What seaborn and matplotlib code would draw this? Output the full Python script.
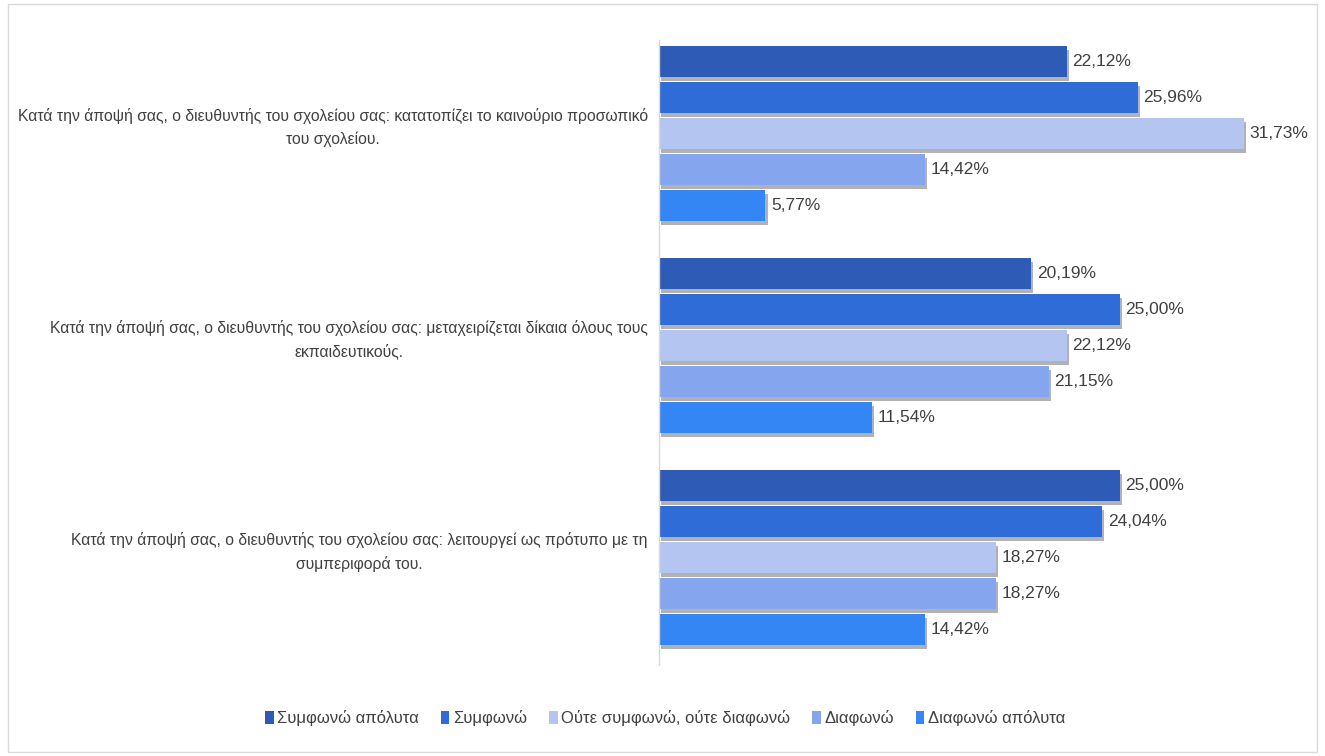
import matplotlib
matplotlib.use("Agg")
import matplotlib.pyplot as plt
import matplotlib.patheffects as pe
from matplotlib.patches import Rectangle, Patch
import seaborn as sns
import pandas as pd

# Survey statements (y categories), answer options (hue) and shares (%)
statements = [
    "Κατά την άποψή σας, ο διευθυντής του σχολείου σας: κατατοπίζει το καινούριο προσωπικό\nτου σχολείου.",
    "Κατά την άποψή σας, ο διευθυντής του σχολείου σας: μεταχειρίζεται δίκαια όλους τους\nεκπαιδευτικούς.",
    "Κατά την άποψή σας, ο διευθυντής του σχολείου σας: λειτουργεί ως πρότυπο με τη\nσυμπεριφορά του.",
]
answers = ["Συμφωνώ απόλυτα", "Συμφωνώ", "Ούτε συμφωνώ, ούτε διαφωνώ", "Διαφωνώ", "Διαφωνώ απόλυτα"]
agree_fully = [22.12, 20.19, 25.00]
agree = [25.96, 25.00, 24.04]
neutral = [31.73, 22.12, 18.27]
disagree = [14.42, 21.15, 18.27]
disagree_fully = [5.77, 11.54, 14.42]

colors = ["#2d5bb5", "#2f6cd8", "#b4c5f2", "#85a5ee", "#3586f5"]

series = [agree_fully, agree, neutral, disagree, disagree_fully]
rows = []
for ans, vals in zip(answers, series):
    for st, v in zip(statements, vals):
        rows.append({"statement": st, "answer": ans, "value": v})
df = pd.DataFrame(rows)

sns.set_theme(style="white")
plt.rcParams["font.family"] = ["Liberation Sans", "DejaVu Sans"]
text_color = "#404040"

fig = plt.figure(figsize=(13.25, 7.56), dpi=100)
ax = fig.add_axes([0.4974, 0.120, 0.501, 0.827])

sns.barplot(data=df, y="statement", x="value", hue="answer",
            order=statements, hue_order=answers, palette=colors,
            orient="h", width=0.85, gap=0.14, ax=ax, legend=False,
            saturation=1, errorbar=None)

shadow = [pe.SimplePatchShadow(offset=(1.5, -3), shadow_rgbFace="#000000", alpha=0.3),
          pe.Normal()]
for patch in ax.patches:
    patch.set_path_effects(shadow)
    patch.set_edgecolor("none")

for cont in ax.containers:
    labels = [f"{v:.2f}".replace(".", ",") + "%" for v in cont.datavalues]
    ax.bar_label(cont, labels=labels, padding=4, fontsize=12.5, color=text_color)

ax.set_xlim(0, 36)
ax.set_ylim(2.51, -0.44)
ax.set_xlabel("")
ax.set_ylabel("")
ax.set_xticks([])
ax.tick_params(axis="y", length=0)
ax.set_yticklabels([])

# category labels, centred a little above each group's middle
for i, st in enumerate(statements):
    ax.annotate(st, xy=(0, i), xycoords=("axes fraction", "data"),
                xytext=(-8, 4), textcoords="offset points",
                ha="right", va="center", multialignment="center",
                fontsize=11.3, color=text_color, linespacing=1.6)

for side in ["top", "right", "bottom"]:
    ax.spines[side].set_visible(False)
ax.spines["left"].set_color("#d9d9d9")
ax.spines["left"].set_linewidth(1)

handles = [Patch(facecolor=c, edgecolor="none") for c in colors]
fig.legend(handles, answers, loc="center", bbox_to_anchor=(0.502, 0.05), ncol=5,
           frameon=False, fontsize=12, handlelength=0.5, handleheight=0.8,
           handletextpad=0.2, columnspacing=1.35, labelcolor=text_color)

fig.patches.append(Rectangle((0.006, 0.005), 0.988, 0.99, transform=fig.transFigure,
                             fill=False, edgecolor="#d9d9d9", linewidth=1))

fig.savefig("out.png", dpi=100)
